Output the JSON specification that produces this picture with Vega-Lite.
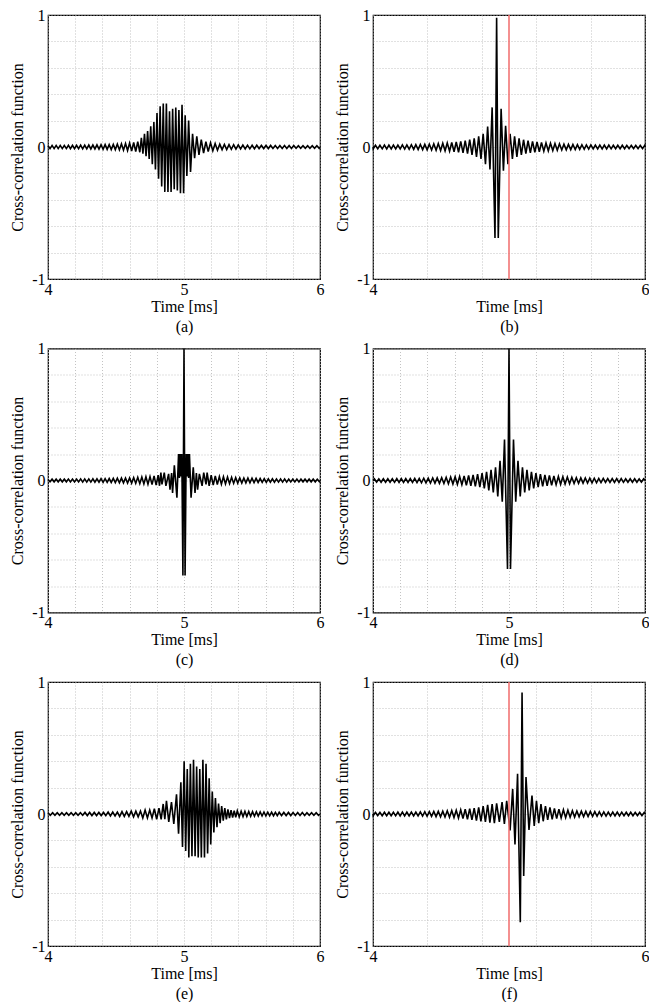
{
"$schema": "https://vega.github.io/schema/vega-lite/v6.json",
"padding": {"left": 9, "top": 6, "right": 2, "bottom": 0},
"background": "white",
"bounds": "flush",
"columns": 2,
"spacing": {"row": 69.5, "column": 53},
"config": {
  "font": "Liberation Serif",
  "view": {"stroke": "black", "strokeWidth": 1.2}
},
"datasets": {
"mark": [{"p": "b", "t": 5}, {"p": "f", "t": 5}],
"sig": [
{"p":"a","t":4.000,"v":0.010},{"p":"a","t":4.015,"v":-0.012},{"p":"a","t":4.030,"v":0.012},{"p":"a","t":4.045,"v":-0.012},{"p":"a","t":4.060,"v":0.012},{"p":"a","t":4.075,"v":-0.012},{"p":"a","t":4.090,"v":0.012},{"p":"a","t":4.105,"v":-0.012},{"p":"a","t":4.120,"v":0.012},{"p":"a","t":4.135,"v":-0.012},{"p":"a","t":4.150,"v":0.013},{"p":"a","t":4.165,"v":-0.013},{"p":"a","t":4.180,"v":0.013},{"p":"a","t":4.195,"v":-0.013},{"p":"a","t":4.210,"v":0.013},{"p":"a","t":4.225,"v":-0.013},{"p":"a","t":4.240,"v":0.014},{"p":"a","t":4.255,"v":-0.014},{"p":"a","t":4.270,"v":0.014},{"p":"a","t":4.285,"v":-0.014},{"p":"a","t":4.300,"v":0.015},{"p":"a","t":4.315,"v":-0.015},{"p":"a","t":4.330,"v":0.015},{"p":"a","t":4.345,"v":-0.015},{"p":"a","t":4.360,"v":0.016},{"p":"a","t":4.375,"v":-0.016},{"p":"a","t":4.390,"v":0.017},{"p":"a","t":4.405,"v":-0.017},{"p":"a","t":4.420,"v":0.018},{"p":"a","t":4.435,"v":-0.018},{"p":"a","t":4.450,"v":0.019},{"p":"a","t":4.465,"v":-0.019},{"p":"a","t":4.480,"v":0.020},{"p":"a","t":4.495,"v":-0.020},{"p":"a","t":4.510,"v":0.022},{"p":"a","t":4.525,"v":-0.022},{"p":"a","t":4.540,"v":0.024},{"p":"a","t":4.555,"v":-0.024},{"p":"a","t":4.570,"v":0.026},{"p":"a","t":4.585,"v":-0.027},{"p":"a","t":4.600,"v":0.030},{"p":"a","t":4.615,"v":-0.030},{"p":"a","t":4.630,"v":0.034},{"p":"a","t":4.645,"v":-0.034},{"p":"a","t":4.660,"v":0.040},{"p":"a","t":4.675,"v":-0.040},
{"p":"a","t":4.6865,"v":0.07},{"p":"a","t":4.698,"v":-0.05},{"p":"a","t":4.7095,"v":0.10},{"p":"a","t":4.721,"v":-0.07},{"p":"a","t":4.7325,"v":0.12},{"p":"a","t":4.744,"v":-0.09},{"p":"a","t":4.7555,"v":0.156},{"p":"a","t":4.767,"v":-0.13},{"p":"a","t":4.7785,"v":0.19},{"p":"a","t":4.790,"v":-0.17},{"p":"a","t":4.8015,"v":0.257},{"p":"a","t":4.813,"v":-0.24},{"p":"a","t":4.8245,"v":0.308},{"p":"a","t":4.836,"v":-0.30},{"p":"a","t":4.8475,"v":0.33},{"p":"a","t":4.859,"v":-0.34},{"p":"a","t":4.8705,"v":0.33},{"p":"a","t":4.882,"v":-0.34},{"p":"a","t":4.8935,"v":0.27},{"p":"a","t":4.905,"v":-0.34},{"p":"a","t":4.9165,"v":0.29},{"p":"a","t":4.928,"v":-0.32},{"p":"a","t":4.9395,"v":0.30},{"p":"a","t":4.951,"v":-0.33},{"p":"a","t":4.9625,"v":0.28},{"p":"a","t":4.974,"v":-0.35},{"p":"a","t":4.9855,"v":0.32},{"p":"a","t":4.997,"v":-0.35},{"p":"a","t":5.0085,"v":0.24},{"p":"a","t":5.021,"v":-0.22},{"p":"a","t":5.034,"v":0.20},{"p":"a","t":5.048,"v":-0.19},{"p":"a","t":5.063,"v":0.10},{"p":"a","t":5.078,"v":-0.085},{"p":"a","t":5.094,"v":0.08},{"p":"a","t":5.110,"v":-0.06},{"p":"a","t":5.127,"v":0.055},{"p":"a","t":5.144,"v":-0.047},{"p":"a","t":5.161,"v":0.04},{"p":"a","t":5.178,"v":-0.035},{"p":"a","t":5.195,"v":0.032},
{"p":"a","t":5.212,"v":-0.028},{"p":"a","t":5.229,"v":0.026},{"p":"a","t":5.246,"v":-0.024},{"p":"a","t":5.263,"v":0.022},{"p":"a","t":5.280,"v":-0.020},{"p":"a","t":5.297,"v":0.020},{"p":"a","t":5.314,"v":-0.019},{"p":"a","t":5.331,"v":0.018},{"p":"a","t":5.348,"v":-0.017},{"p":"a","t":5.365,"v":0.017},{"p":"a","t":5.382,"v":-0.016},{"p":"a","t":5.399,"v":0.016},{"p":"a","t":5.416,"v":-0.015},{"p":"a","t":5.433,"v":0.015},{"p":"a","t":5.450,"v":-0.014},{"p":"a","t":5.467,"v":0.014},{"p":"a","t":5.484,"v":-0.014},{"p":"a","t":5.501,"v":0.013},{"p":"a","t":5.518,"v":-0.013},{"p":"a","t":5.535,"v":0.013},{"p":"a","t":5.552,"v":-0.012},{"p":"a","t":5.569,"v":0.012},{"p":"a","t":5.586,"v":-0.012},{"p":"a","t":5.603,"v":0.012},{"p":"a","t":5.620,"v":-0.012},{"p":"a","t":5.637,"v":0.012},{"p":"a","t":5.654,"v":-0.011},{"p":"a","t":5.671,"v":0.011},{"p":"a","t":5.688,"v":-0.011},{"p":"a","t":5.705,"v":0.011},{"p":"a","t":5.722,"v":-0.011},{"p":"a","t":5.739,"v":0.011},{"p":"a","t":5.756,"v":-0.011},{"p":"a","t":5.773,"v":0.011},{"p":"a","t":5.790,"v":-0.011},{"p":"a","t":5.807,"v":0.011},{"p":"a","t":5.824,"v":-0.010},{"p":"a","t":5.841,"v":0.010},{"p":"a","t":5.858,"v":-0.010},{"p":"a","t":5.875,"v":0.010},{"p":"a","t":5.892,"v":-0.010},{"p":"a","t":5.909,"v":0.010},{"p":"a","t":5.926,"v":-0.010},{"p":"a","t":5.943,"v":0.010},{"p":"a","t":5.960,"v":-0.010},{"p":"a","t":5.977,"v":0.010},{"p":"a","t":5.994,"v":-0.010},{"p":"a","t":6.000,"v":0},

{"p":"b","t":4.000,"v":0},{"p":"b","t":4.002,"v":-0.013},{"p":"b","t":4.018,"v":0.013},{"p":"b","t":4.035,"v":-0.013},{"p":"b","t":4.051,"v":0.013},{"p":"b","t":4.068,"v":-0.014},{"p":"b","t":4.084,"v":0.014},{"p":"b","t":4.101,"v":-0.014},{"p":"b","t":4.117,"v":0.014},{"p":"b","t":4.134,"v":-0.014},{"p":"b","t":4.150,"v":0.015},{"p":"b","t":4.167,"v":-0.015},{"p":"b","t":4.183,"v":0.015},{"p":"b","t":4.200,"v":-0.015},{"p":"b","t":4.216,"v":0.016},{"p":"b","t":4.233,"v":-0.016},{"p":"b","t":4.249,"v":0.016},{"p":"b","t":4.266,"v":-0.017},{"p":"b","t":4.282,"v":0.017},{"p":"b","t":4.299,"v":-0.018},{"p":"b","t":4.315,"v":0.018},{"p":"b","t":4.332,"v":-0.019},{"p":"b","t":4.348,"v":0.019},{"p":"b","t":4.365,"v":-0.020},{"p":"b","t":4.381,"v":0.020},{"p":"b","t":4.398,"v":-0.021},{"p":"b","t":4.414,"v":0.022},{"p":"b","t":4.431,"v":-0.023},{"p":"b","t":4.447,"v":0.024},{"p":"b","t":4.464,"v":-0.025},{"p":"b","t":4.480,"v":0.026},{"p":"b","t":4.497,"v":-0.027},{"p":"b","t":4.513,"v":0.028},{"p":"b","t":4.530,"v":-0.029},{"p":"b","t":4.546,"v":0.030},{"p":"b","t":4.563,"v":-0.032},{"p":"b","t":4.579,"v":0.034},{"p":"b","t":4.596,"v":-0.036},{"p":"b","t":4.612,"v":0.038},{"p":"b","t":4.629,"v":-0.040},{"p":"b","t":4.645,"v":0.042},{"p":"b","t":4.662,"v":-0.045},{"p":"b","t":4.678,"v":0.048},{"p":"b","t":4.695,"v":-0.050},{"p":"b","t":4.711,"v":0.055},{"p":"b","t":4.728,"v":-0.060},{"p":"b","t":4.744,"v":0.065},{"p":"b","t":4.761,"v":-0.075},{"p":"b","t":4.777,"v":0.080},{"p":"b","t":4.794,"v":-0.090},{"p":"b","t":4.810,"v":0.10},{"p":"b","t":4.827,"v":-0.13},{"p":"b","t":4.843,"v":0.155},{"p":"b","t":4.860,"v":-0.17},{"p":"b","t":4.876,"v":0.30},{"p":"b","t":4.897,"v":-0.69},{"p":"b","t":4.909,"v":0.98},{"p":"b","t":4.921,"v":-0.69},{"p":"b","t":4.942,"v":0.29},{"p":"b","t":4.959,"v":-0.18},{"p":"b","t":4.975,"v":0.16},{"p":"b","t":4.992,"v":-0.13},{"p":"b","t":5.008,"v":0.10},{"p":"b","t":5.025,"v":-0.09},{"p":"b","t":5.041,"v":0.08},{"p":"b","t":5.058,"v":-0.075},{"p":"b","t":5.074,"v":0.065},{"p":"b","t":5.091,"v":-0.060},{"p":"b","t":5.107,"v":0.055},{"p":"b","t":5.124,"v":-0.050},{"p":"b","t":5.140,"v":0.048},{"p":"b","t":5.157,"v":-0.045},{"p":"b","t":5.173,"v":0.042},{"p":"b","t":5.190,"v":-0.040},{"p":"b","t":5.206,"v":0.038},{"p":"b","t":5.223,"v":-0.036},{"p":"b","t":5.239,"v":0.034},{"p":"b","t":5.256,"v":-0.032},{"p":"b","t":5.272,"v":0.030},{"p":"b","t":5.289,"v":-0.029},{"p":"b","t":5.305,"v":0.028},{"p":"b","t":5.322,"v":-0.027},{"p":"b","t":5.338,"v":0.026},{"p":"b","t":5.355,"v":-0.025},{"p":"b","t":5.371,"v":0.024},{"p":"b","t":5.388,"v":-0.023},{"p":"b","t":5.404,"v":0.022},{"p":"b","t":5.421,"v":-0.021},{"p":"b","t":5.437,"v":0.020},{"p":"b","t":5.454,"v":-0.020},{"p":"b","t":5.470,"v":0.019},{"p":"b","t":5.487,"v":-0.019},{"p":"b","t":5.503,"v":0.018},{"p":"b","t":5.520,"v":-0.018},{"p":"b","t":5.536,"v":0.017},{"p":"b","t":5.553,"v":-0.017},{"p":"b","t":5.569,"v":0.016},{"p":"b","t":5.586,"v":-0.016},{"p":"b","t":5.602,"v":0.016},{"p":"b","t":5.619,"v":-0.015},{"p":"b","t":5.635,"v":0.015},{"p":"b","t":5.652,"v":-0.015},{"p":"b","t":5.668,"v":0.015},{"p":"b","t":5.685,"v":-0.014},{"p":"b","t":5.701,"v":0.014},{"p":"b","t":5.718,"v":-0.014},{"p":"b","t":5.734,"v":0.014},{"p":"b","t":5.751,"v":-0.014},{"p":"b","t":5.767,"v":0.013},{"p":"b","t":5.784,"v":-0.013},{"p":"b","t":5.800,"v":0.013},{"p":"b","t":5.817,"v":-0.013},{"p":"b","t":5.833,"v":0.013},{"p":"b","t":5.850,"v":-0.013},{"p":"b","t":5.866,"v":0.012},{"p":"b","t":5.883,"v":-0.012},{"p":"b","t":5.899,"v":0.012},{"p":"b","t":5.916,"v":-0.012},{"p":"b","t":5.932,"v":0.012},{"p":"b","t":5.949,"v":-0.012},{"p":"b","t":5.965,"v":0.012},{"p":"b","t":5.982,"v":-0.012},{"p":"b","t":5.998,"v":0.012},{"p":"b","t":6.000,"v":0},

{"p":"c","t":4.000,"v":0.008},{"p":"c","t":4.015,"v":-0.010},{"p":"c","t":4.030,"v":0.010},{"p":"c","t":4.045,"v":-0.010},{"p":"c","t":4.060,"v":0.010},{"p":"c","t":4.075,"v":-0.010},{"p":"c","t":4.090,"v":0.010},{"p":"c","t":4.105,"v":-0.010},{"p":"c","t":4.120,"v":0.010},{"p":"c","t":4.135,"v":-0.010},{"p":"c","t":4.150,"v":0.011},{"p":"c","t":4.165,"v":-0.011},{"p":"c","t":4.180,"v":0.011},{"p":"c","t":4.195,"v":-0.011},{"p":"c","t":4.210,"v":0.011},{"p":"c","t":4.225,"v":-0.011},{"p":"c","t":4.240,"v":0.012},{"p":"c","t":4.255,"v":-0.012},{"p":"c","t":4.270,"v":0.012},{"p":"c","t":4.285,"v":-0.012},{"p":"c","t":4.300,"v":0.012},{"p":"c","t":4.315,"v":-0.012},{"p":"c","t":4.330,"v":0.013},{"p":"c","t":4.345,"v":-0.013},{"p":"c","t":4.360,"v":0.013},{"p":"c","t":4.375,"v":-0.013},{"p":"c","t":4.390,"v":0.014},{"p":"c","t":4.405,"v":-0.014},{"p":"c","t":4.420,"v":0.014},{"p":"c","t":4.435,"v":-0.014},{"p":"c","t":4.450,"v":0.015},{"p":"c","t":4.465,"v":-0.015},{"p":"c","t":4.480,"v":0.016},{"p":"c","t":4.495,"v":-0.016},{"p":"c","t":4.510,"v":0.017},{"p":"c","t":4.525,"v":-0.017},{"p":"c","t":4.540,"v":0.018},{"p":"c","t":4.555,"v":-0.018},{"p":"c","t":4.570,"v":0.019},{"p":"c","t":4.585,"v":-0.019},{"p":"c","t":4.600,"v":0.020},{"p":"c","t":4.615,"v":-0.020},{"p":"c","t":4.630,"v":0.022},{"p":"c","t":4.645,"v":-0.022},{"p":"c","t":4.660,"v":0.024},{"p":"c","t":4.675,"v":-0.024},{"p":"c","t":4.690,"v":0.026},{"p":"c","t":4.705,"v":-0.026},{"p":"c","t":4.720,"v":0.028},{"p":"c","t":4.735,"v":-0.028},{"p":"c","t":4.750,"v":0.030},{"p":"c","t":4.765,"v":-0.030},{"p":"c","t":4.780,"v":0.035},{"p":"c","t":4.795,"v":-0.035},{"p":"c","t":4.810,"v":0.040},{"p":"c","t":4.820,"v":-0.040},
{"p":"c","t":4.830,"v":0.06},{"p":"c","t":4.838,"v":-0.03},{"p":"c","t":4.855,"v":0.06},{"p":"c","t":4.867,"v":-0.04},{"p":"c","t":4.887,"v":0.05},{"p":"c","t":4.897,"v":-0.07},{"p":"c","t":4.909,"v":0.057},{"p":"c","t":4.916,"v":-0.094},{"p":"c","t":4.929,"v":0.115},{"p":"c","t":4.948,"v":-0.13},{"p":"c","t":4.960,"v":0.20},{"p":"c","t":4.966,"v":0.02},{"p":"c","t":4.972,"v":0.20},{"p":"c","t":4.978,"v":0.03},{"p":"c","t":4.984,"v":0.20},{"p":"c","t":4.992,"v":-0.72},{"p":"c","t":5.000,"v":1.0},{"p":"c","t":5.008,"v":-0.72},{"p":"c","t":5.016,"v":0.20},{"p":"c","t":5.022,"v":0.03},{"p":"c","t":5.028,"v":0.20},{"p":"c","t":5.034,"v":0.02},{"p":"c","t":5.040,"v":0.20},{"p":"c","t":5.052,"v":-0.13},{"p":"c","t":5.068,"v":0.10},{"p":"c","t":5.081,"v":-0.094},{"p":"c","t":5.091,"v":0.057},{"p":"c","t":5.100,"v":-0.07},{"p":"c","t":5.113,"v":0.05},{"p":"c","t":5.133,"v":-0.04},{"p":"c","t":5.145,"v":0.06},{"p":"c","t":5.162,"v":-0.03},{"p":"c","t":5.170,"v":0.06},
{"p":"c","t":5.185,"v":-0.040},{"p":"c","t":5.200,"v":0.040},{"p":"c","t":5.215,"v":-0.035},{"p":"c","t":5.230,"v":0.035},{"p":"c","t":5.245,"v":-0.030},{"p":"c","t":5.260,"v":0.030},{"p":"c","t":5.275,"v":-0.028},{"p":"c","t":5.290,"v":0.028},{"p":"c","t":5.305,"v":-0.026},{"p":"c","t":5.320,"v":0.026},{"p":"c","t":5.335,"v":-0.024},{"p":"c","t":5.350,"v":0.024},{"p":"c","t":5.365,"v":-0.022},{"p":"c","t":5.380,"v":0.022},{"p":"c","t":5.395,"v":-0.020},{"p":"c","t":5.410,"v":0.020},{"p":"c","t":5.425,"v":-0.019},{"p":"c","t":5.440,"v":0.019},{"p":"c","t":5.455,"v":-0.018},{"p":"c","t":5.470,"v":0.018},{"p":"c","t":5.485,"v":-0.017},{"p":"c","t":5.500,"v":0.017},{"p":"c","t":5.515,"v":-0.016},{"p":"c","t":5.530,"v":0.016},{"p":"c","t":5.545,"v":-0.015},{"p":"c","t":5.560,"v":0.015},{"p":"c","t":5.575,"v":-0.014},{"p":"c","t":5.590,"v":0.014},{"p":"c","t":5.605,"v":-0.014},{"p":"c","t":5.620,"v":0.013},{"p":"c","t":5.635,"v":-0.013},{"p":"c","t":5.650,"v":0.013},{"p":"c","t":5.665,"v":-0.013},{"p":"c","t":5.680,"v":0.012},{"p":"c","t":5.695,"v":-0.012},{"p":"c","t":5.710,"v":0.012},{"p":"c","t":5.725,"v":-0.012},{"p":"c","t":5.740,"v":0.012},{"p":"c","t":5.755,"v":-0.012},{"p":"c","t":5.770,"v":0.011},{"p":"c","t":5.785,"v":-0.011},{"p":"c","t":5.800,"v":0.011},{"p":"c","t":5.815,"v":-0.011},{"p":"c","t":5.830,"v":0.011},{"p":"c","t":5.845,"v":-0.011},{"p":"c","t":5.860,"v":0.010},{"p":"c","t":5.875,"v":-0.010},{"p":"c","t":5.890,"v":0.010},{"p":"c","t":5.905,"v":-0.010},{"p":"c","t":5.920,"v":0.010},{"p":"c","t":5.935,"v":-0.010},{"p":"c","t":5.950,"v":0.010},{"p":"c","t":5.965,"v":-0.010},{"p":"c","t":5.980,"v":0.010},{"p":"c","t":5.995,"v":-0.008},{"p":"c","t":6.000,"v":0},

{"p":"d","t":4.000,"v":0},{"p":"d","t":4.010,"v":0.012},{"p":"d","t":4.0265,"v":-0.012},{"p":"d","t":4.043,"v":0.012},{"p":"d","t":4.0595,"v":-0.013},{"p":"d","t":4.076,"v":0.013},{"p":"d","t":4.0925,"v":-0.013},{"p":"d","t":4.109,"v":0.013},{"p":"d","t":4.1255,"v":-0.013},{"p":"d","t":4.142,"v":0.013},{"p":"d","t":4.1585,"v":-0.014},{"p":"d","t":4.175,"v":0.014},{"p":"d","t":4.1915,"v":-0.014},{"p":"d","t":4.208,"v":0.014},{"p":"d","t":4.2245,"v":-0.014},{"p":"d","t":4.241,"v":0.015},{"p":"d","t":4.2575,"v":-0.015},{"p":"d","t":4.274,"v":0.015},{"p":"d","t":4.2905,"v":-0.015},{"p":"d","t":4.307,"v":0.016},{"p":"d","t":4.3235,"v":-0.016},{"p":"d","t":4.340,"v":0.016},{"p":"d","t":4.3565,"v":-0.017},{"p":"d","t":4.373,"v":0.017},{"p":"d","t":4.3895,"v":-0.018},{"p":"d","t":4.406,"v":0.018},{"p":"d","t":4.4225,"v":-0.019},{"p":"d","t":4.439,"v":0.019},{"p":"d","t":4.4555,"v":-0.020},{"p":"d","t":4.472,"v":0.020},{"p":"d","t":4.4885,"v":-0.021},{"p":"d","t":4.505,"v":0.022},{"p":"d","t":4.5215,"v":-0.023},{"p":"d","t":4.538,"v":0.024},{"p":"d","t":4.5545,"v":-0.025},{"p":"d","t":4.571,"v":0.026},{"p":"d","t":4.5875,"v":-0.027},{"p":"d","t":4.604,"v":0.028},{"p":"d","t":4.6205,"v":-0.029},{"p":"d","t":4.637,"v":0.030},{"p":"d","t":4.6535,"v":-0.032},{"p":"d","t":4.670,"v":0.034},{"p":"d","t":4.6865,"v":-0.036},{"p":"d","t":4.703,"v":0.038},{"p":"d","t":4.7195,"v":-0.040},{"p":"d","t":4.736,"v":0.042},{"p":"d","t":4.7525,"v":-0.045},{"p":"d","t":4.769,"v":0.048},{"p":"d","t":4.7855,"v":-0.050},{"p":"d","t":4.802,"v":0.055},{"p":"d","t":4.8185,"v":-0.060},{"p":"d","t":4.835,"v":0.065},{"p":"d","t":4.8515,"v":-0.075},{"p":"d","t":4.868,"v":0.080},{"p":"d","t":4.8845,"v":-0.090},{"p":"d","t":4.901,"v":0.10},{"p":"d","t":4.9175,"v":-0.12},{"p":"d","t":4.934,"v":0.15},{"p":"d","t":4.9505,"v":-0.16},{"p":"d","t":4.967,"v":0.31},{"p":"d","t":4.989,"v":-0.67},{"p":"d","t":5.000,"v":1.0},{"p":"d","t":5.011,"v":-0.67},{"p":"d","t":5.033,"v":0.31},{"p":"d","t":5.0495,"v":-0.16},{"p":"d","t":5.066,"v":0.15},{"p":"d","t":5.0825,"v":-0.12},{"p":"d","t":5.099,"v":0.10},{"p":"d","t":5.1155,"v":-0.090},{"p":"d","t":5.132,"v":0.080},{"p":"d","t":5.1485,"v":-0.075},{"p":"d","t":5.165,"v":0.065},{"p":"d","t":5.1815,"v":-0.060},{"p":"d","t":5.198,"v":0.055},{"p":"d","t":5.2145,"v":-0.050},{"p":"d","t":5.231,"v":0.048},{"p":"d","t":5.2475,"v":-0.045},{"p":"d","t":5.264,"v":0.042},{"p":"d","t":5.2805,"v":-0.040},{"p":"d","t":5.297,"v":0.038},{"p":"d","t":5.3135,"v":-0.036},{"p":"d","t":5.330,"v":0.034},{"p":"d","t":5.3465,"v":-0.032},{"p":"d","t":5.363,"v":0.030},{"p":"d","t":5.3795,"v":-0.029},{"p":"d","t":5.396,"v":0.028},{"p":"d","t":5.4125,"v":-0.027},{"p":"d","t":5.429,"v":0.026},{"p":"d","t":5.4455,"v":-0.025},{"p":"d","t":5.462,"v":0.024},{"p":"d","t":5.4785,"v":-0.023},{"p":"d","t":5.495,"v":0.022},{"p":"d","t":5.5115,"v":-0.021},{"p":"d","t":5.528,"v":0.020},{"p":"d","t":5.5445,"v":-0.020},{"p":"d","t":5.561,"v":0.019},{"p":"d","t":5.5775,"v":-0.019},{"p":"d","t":5.594,"v":0.018},{"p":"d","t":5.6105,"v":-0.018},{"p":"d","t":5.627,"v":0.017},{"p":"d","t":5.6435,"v":-0.017},{"p":"d","t":5.660,"v":0.016},{"p":"d","t":5.6765,"v":-0.016},{"p":"d","t":5.693,"v":0.016},{"p":"d","t":5.7095,"v":-0.015},{"p":"d","t":5.726,"v":0.015},{"p":"d","t":5.7425,"v":-0.015},{"p":"d","t":5.759,"v":0.015},{"p":"d","t":5.7755,"v":-0.014},{"p":"d","t":5.792,"v":0.014},{"p":"d","t":5.8085,"v":-0.014},{"p":"d","t":5.825,"v":0.014},{"p":"d","t":5.8415,"v":-0.014},{"p":"d","t":5.858,"v":0.013},{"p":"d","t":5.8745,"v":-0.013},{"p":"d","t":5.891,"v":0.013},{"p":"d","t":5.9075,"v":-0.013},{"p":"d","t":5.924,"v":0.013},{"p":"d","t":5.9405,"v":-0.013},{"p":"d","t":5.957,"v":0.012},{"p":"d","t":5.9735,"v":-0.012},{"p":"d","t":5.990,"v":0.012},{"p":"d","t":6.000,"v":0},

{"p":"e","t":4.000,"v":0.010},{"p":"e","t":4.017,"v":-0.010},{"p":"e","t":4.034,"v":0.010},{"p":"e","t":4.051,"v":-0.010},{"p":"e","t":4.068,"v":0.010},{"p":"e","t":4.085,"v":-0.010},{"p":"e","t":4.102,"v":0.010},{"p":"e","t":4.119,"v":-0.010},{"p":"e","t":4.136,"v":0.010},{"p":"e","t":4.153,"v":-0.010},{"p":"e","t":4.170,"v":0.010},{"p":"e","t":4.187,"v":-0.010},{"p":"e","t":4.204,"v":0.010},{"p":"e","t":4.221,"v":-0.010},{"p":"e","t":4.238,"v":0.010},{"p":"e","t":4.255,"v":-0.010},{"p":"e","t":4.272,"v":0.012},{"p":"e","t":4.289,"v":-0.012},{"p":"e","t":4.306,"v":0.012},{"p":"e","t":4.323,"v":-0.012},{"p":"e","t":4.340,"v":0.012},{"p":"e","t":4.357,"v":-0.012},{"p":"e","t":4.374,"v":0.012},{"p":"e","t":4.391,"v":-0.012},{"p":"e","t":4.408,"v":0.012},{"p":"e","t":4.425,"v":-0.012},{"p":"e","t":4.442,"v":0.015},{"p":"e","t":4.459,"v":-0.015},{"p":"e","t":4.476,"v":0.015},{"p":"e","t":4.493,"v":-0.015},{"p":"e","t":4.510,"v":0.015},{"p":"e","t":4.527,"v":-0.018},{"p":"e","t":4.544,"v":0.018},{"p":"e","t":4.561,"v":-0.018},{"p":"e","t":4.578,"v":0.018},{"p":"e","t":4.595,"v":-0.018},{"p":"e","t":4.612,"v":0.022},{"p":"e","t":4.629,"v":-0.022},{"p":"e","t":4.646,"v":0.022},{"p":"e","t":4.663,"v":-0.022},{"p":"e","t":4.680,"v":0.022},{"p":"e","t":4.697,"v":-0.030},{"p":"e","t":4.714,"v":0.030},{"p":"e","t":4.731,"v":-0.030},{"p":"e","t":4.748,"v":0.030},{"p":"e","t":4.765,"v":-0.030},{"p":"e","t":4.782,"v":0.040},{"p":"e","t":4.799,"v":-0.040},{"p":"e","t":4.816,"v":0.045},
{"p":"e","t":4.832,"v":-0.04},{"p":"e","t":4.847,"v":0.076},{"p":"e","t":4.859,"v":-0.04},{"p":"e","t":4.871,"v":0.10},{"p":"e","t":4.888,"v":-0.06},{"p":"e","t":4.908,"v":0.09},{"p":"e","t":4.925,"v":-0.076},{"p":"e","t":4.945,"v":0.15},{"p":"e","t":4.960,"v":-0.15},{"p":"e","t":4.977,"v":0.24},{"p":"e","t":4.989,"v":-0.25},{"p":"e","t":5.001,"v":0.40},{"p":"e","t":5.0125,"v":-0.28},{"p":"e","t":5.024,"v":0.34},{"p":"e","t":5.0355,"v":-0.33},{"p":"e","t":5.047,"v":0.38},{"p":"e","t":5.0585,"v":-0.32},{"p":"e","t":5.070,"v":0.41},{"p":"e","t":5.0815,"v":-0.32},{"p":"e","t":5.093,"v":0.36},{"p":"e","t":5.1045,"v":-0.33},{"p":"e","t":5.116,"v":0.34},{"p":"e","t":5.1275,"v":-0.33},{"p":"e","t":5.139,"v":0.41},{"p":"e","t":5.1505,"v":-0.33},{"p":"e","t":5.162,"v":0.38},{"p":"e","t":5.1735,"v":-0.30},{"p":"e","t":5.185,"v":0.27},{"p":"e","t":5.1965,"v":-0.23},{"p":"e","t":5.208,"v":0.17},{"p":"e","t":5.2195,"v":-0.14},{"p":"e","t":5.231,"v":0.12},{"p":"e","t":5.2425,"v":-0.10},{"p":"e","t":5.254,"v":0.08},{"p":"e","t":5.2655,"v":-0.07},{"p":"e","t":5.277,"v":0.06},{"p":"e","t":5.2885,"v":-0.05},{"p":"e","t":5.300,"v":0.045},{"p":"e","t":5.3115,"v":-0.04},{"p":"e","t":5.323,"v":0.035},{"p":"e","t":5.3345,"v":-0.032},{"p":"e","t":5.346,"v":0.030},{"p":"e","t":5.3575,"v":-0.028},{"p":"e","t":5.369,"v":0.026},{"p":"e","t":5.3805,"v":-0.025},{"p":"e","t":5.392,"v":0.024},
{"p":"e","t":5.406,"v":-0.022},{"p":"e","t":5.420,"v":0.021},{"p":"e","t":5.434,"v":-0.020},{"p":"e","t":5.448,"v":0.020},{"p":"e","t":5.462,"v":-0.019},{"p":"e","t":5.476,"v":0.019},{"p":"e","t":5.490,"v":-0.018},{"p":"e","t":5.504,"v":0.018},{"p":"e","t":5.518,"v":-0.017},{"p":"e","t":5.532,"v":0.017},{"p":"e","t":5.546,"v":-0.016},{"p":"e","t":5.560,"v":0.016},{"p":"e","t":5.574,"v":-0.015},{"p":"e","t":5.588,"v":0.015},{"p":"e","t":5.602,"v":-0.015},{"p":"e","t":5.616,"v":0.014},{"p":"e","t":5.630,"v":-0.014},{"p":"e","t":5.644,"v":0.014},{"p":"e","t":5.658,"v":-0.013},{"p":"e","t":5.672,"v":0.013},{"p":"e","t":5.686,"v":-0.013},{"p":"e","t":5.700,"v":0.013},{"p":"e","t":5.717,"v":-0.012},{"p":"e","t":5.734,"v":0.012},{"p":"e","t":5.751,"v":-0.012},{"p":"e","t":5.768,"v":0.012},{"p":"e","t":5.785,"v":-0.012},{"p":"e","t":5.802,"v":0.011},{"p":"e","t":5.819,"v":-0.011},{"p":"e","t":5.836,"v":0.011},{"p":"e","t":5.853,"v":-0.011},{"p":"e","t":5.870,"v":0.011},{"p":"e","t":5.887,"v":-0.011},{"p":"e","t":5.904,"v":0.010},{"p":"e","t":5.921,"v":-0.010},{"p":"e","t":5.938,"v":0.010},{"p":"e","t":5.955,"v":-0.010},{"p":"e","t":5.972,"v":0.010},{"p":"e","t":5.989,"v":-0.010},{"p":"e","t":6.000,"v":0},

{"p":"f","t":4.000,"v":0},{"p":"f","t":4.0015,"v":-0.012},{"p":"f","t":4.018,"v":0.012},{"p":"f","t":4.0345,"v":-0.012},{"p":"f","t":4.051,"v":0.012},{"p":"f","t":4.0675,"v":-0.013},{"p":"f","t":4.084,"v":0.013},{"p":"f","t":4.1005,"v":-0.013},{"p":"f","t":4.117,"v":0.013},{"p":"f","t":4.1335,"v":-0.013},{"p":"f","t":4.150,"v":0.013},{"p":"f","t":4.1665,"v":-0.014},{"p":"f","t":4.183,"v":0.014},{"p":"f","t":4.1995,"v":-0.014},{"p":"f","t":4.216,"v":0.014},{"p":"f","t":4.2325,"v":-0.014},{"p":"f","t":4.249,"v":0.014},{"p":"f","t":4.2655,"v":-0.014},{"p":"f","t":4.282,"v":0.014},{"p":"f","t":4.2985,"v":-0.015},{"p":"f","t":4.315,"v":0.015},{"p":"f","t":4.3315,"v":-0.015},{"p":"f","t":4.348,"v":0.016},{"p":"f","t":4.3645,"v":-0.016},{"p":"f","t":4.381,"v":0.017},{"p":"f","t":4.3975,"v":-0.017},{"p":"f","t":4.414,"v":0.018},{"p":"f","t":4.4305,"v":-0.018},{"p":"f","t":4.447,"v":0.019},{"p":"f","t":4.4635,"v":-0.020},{"p":"f","t":4.480,"v":0.020},{"p":"f","t":4.4965,"v":-0.021},{"p":"f","t":4.513,"v":0.022},{"p":"f","t":4.5295,"v":-0.023},{"p":"f","t":4.546,"v":0.024},{"p":"f","t":4.5625,"v":-0.025},{"p":"f","t":4.579,"v":0.026},{"p":"f","t":4.5955,"v":-0.027},{"p":"f","t":4.612,"v":0.028},{"p":"f","t":4.6285,"v":-0.030},{"p":"f","t":4.645,"v":0.032},{"p":"f","t":4.6615,"v":-0.034},{"p":"f","t":4.678,"v":0.036},{"p":"f","t":4.6945,"v":-0.040},{"p":"f","t":4.711,"v":0.040},{"p":"f","t":4.7275,"v":-0.045},{"p":"f","t":4.744,"v":0.045},{"p":"f","t":4.7605,"v":-0.050},{"p":"f","t":4.777,"v":0.050},{"p":"f","t":4.7935,"v":-0.055},{"p":"f","t":4.810,"v":0.060},{"p":"f","t":4.8265,"v":-0.060},{"p":"f","t":4.843,"v":0.070},{"p":"f","t":4.8595,"v":-0.065},{"p":"f","t":4.876,"v":0.075},{"p":"f","t":4.8925,"v":-0.070},
{"p":"f","t":4.909,"v":0.08},{"p":"f","t":4.929,"v":-0.06},{"p":"f","t":4.949,"v":0.09},{"p":"f","t":4.966,"v":-0.075},{"p":"f","t":4.983,"v":0.10},{"p":"f","t":5.008,"v":-0.125},{"p":"f","t":5.027,"v":0.19},{"p":"f","t":5.044,"v":-0.23},{"p":"f","t":5.063,"v":0.305},{"p":"f","t":5.083,"v":-0.82},{"p":"f","t":5.096,"v":0.92},{"p":"f","t":5.108,"v":-0.47},{"p":"f","t":5.125,"v":0.28},{"p":"f","t":5.147,"v":-0.12},{"p":"f","t":5.169,"v":0.14},
{"p":"f","t":5.1855,"v":-0.09},{"p":"f","t":5.202,"v":0.10},{"p":"f","t":5.2185,"v":-0.07},{"p":"f","t":5.235,"v":0.075},{"p":"f","t":5.2515,"v":-0.055},{"p":"f","t":5.268,"v":0.06},{"p":"f","t":5.2845,"v":-0.045},{"p":"f","t":5.301,"v":0.05},{"p":"f","t":5.3175,"v":-0.04},{"p":"f","t":5.334,"v":0.042},{"p":"f","t":5.3505,"v":-0.035},{"p":"f","t":5.367,"v":0.036},{"p":"f","t":5.3835,"v":-0.030},{"p":"f","t":5.400,"v":0.032},{"p":"f","t":5.4165,"v":-0.028},{"p":"f","t":5.433,"v":0.028},{"p":"f","t":5.4495,"v":-0.025},{"p":"f","t":5.466,"v":0.025},{"p":"f","t":5.4825,"v":-0.023},{"p":"f","t":5.499,"v":0.023},{"p":"f","t":5.5155,"v":-0.021},{"p":"f","t":5.532,"v":0.021},{"p":"f","t":5.5485,"v":-0.020},{"p":"f","t":5.565,"v":0.020},{"p":"f","t":5.5815,"v":-0.019},{"p":"f","t":5.598,"v":0.019},{"p":"f","t":5.6145,"v":-0.018},{"p":"f","t":5.631,"v":0.018},{"p":"f","t":5.6475,"v":-0.017},{"p":"f","t":5.664,"v":0.017},{"p":"f","t":5.6805,"v":-0.016},{"p":"f","t":5.697,"v":0.016},{"p":"f","t":5.7135,"v":-0.016},{"p":"f","t":5.730,"v":0.015},{"p":"f","t":5.7465,"v":-0.015},{"p":"f","t":5.763,"v":0.015},{"p":"f","t":5.7795,"v":-0.014},{"p":"f","t":5.796,"v":0.014},{"p":"f","t":5.8125,"v":-0.014},{"p":"f","t":5.829,"v":0.014},{"p":"f","t":5.8455,"v":-0.013},{"p":"f","t":5.862,"v":0.013},{"p":"f","t":5.8785,"v":-0.013},{"p":"f","t":5.895,"v":0.013},{"p":"f","t":5.9115,"v":-0.013},{"p":"f","t":5.928,"v":0.012},{"p":"f","t":5.9445,"v":-0.012},{"p":"f","t":5.961,"v":0.012},{"p":"f","t":5.9775,"v":-0.012},{"p":"f","t":5.994,"v":0.012},{"p":"f","t":6.000,"v":0}
]
},
"concat": [
{"width": 272, "height": 264, "view": {"stroke": "black", "strokeWidth": 1.2}, "layer": [
 {"data": {"name": "sig"}, "transform": [{"filter": "datum.p == 'a'"}], "mark": {"type": "line", "color": "black", "strokeWidth": 1.6},
  "encoding": {
   "x": {"field": "t", "type": "quantitative", "scale": {"domain": [4, 6], "nice": false, "zero": false}, "axis": {"title": ["Time [ms]", "(a)"], "titleFont": "Liberation Serif", "titleFontSize": 16, "titleFontWeight": "normal", "titleColor": "black", "titlePadding": 1, "titleLineHeight": 20, "labelFont": "Liberation Serif", "labelFontSize": 16, "labelColor": "black", "labelPadding": 2, "labelFlush": false, "labelOverlap": false, "domain": false, "ticks": false, "gridColor": "#b4b4b4", "gridDash": [1, 2], "gridWidth": 0.8, "values": [4, 4.2, 4.4, 4.6, 4.8, 5, 5.2, 5.4, 5.6, 5.8, 6], "labelExpr": "datum.value == 4 ? '4' : datum.value == 5 ? '5' : datum.value == 6 ? '6' : ''"}},
   "y": {"field": "v", "type": "quantitative", "scale": {"domain": [-1, 1], "nice": false}, "axis": {"title": "Cross-correlation function", "titleFont": "Liberation Serif", "titleFontSize": 16, "titleFontWeight": "normal", "titleColor": "black", "titlePadding": 6, "labelFont": "Liberation Serif", "labelFontSize": 16, "labelColor": "black", "labelPadding": 3, "labelFlush": false, "labelOverlap": false, "domain": false, "ticks": false, "gridColor": "#b4b4b4", "gridDash": [1, 2], "gridWidth": 0.8, "values": [-1, -0.8, -0.6, -0.4, -0.2, 0, 0.2, 0.4, 0.6, 0.8, 1], "labelExpr": "datum.value == 1 ? '1' : datum.value == 0 ? '0' : datum.value == -1 ? '-1' : ''"}}}}
]},
{"width": 272, "height": 264, "view": {"stroke": "black", "strokeWidth": 1.2}, "layer": [
 {"data": {"name": "sig"}, "transform": [{"filter": "datum.p == 'b'"}], "mark": {"type": "line", "color": "black", "strokeWidth": 1.6},
  "encoding": {
   "x": {"field": "t", "type": "quantitative", "scale": {"domain": [4, 6], "nice": false, "zero": false}, "axis": {"title": ["Time [ms]", "(b)"], "titleFont": "Liberation Serif", "titleFontSize": 16, "titleFontWeight": "normal", "titleColor": "black", "titlePadding": 1, "titleLineHeight": 20, "labelFont": "Liberation Serif", "labelFontSize": 16, "labelColor": "black", "labelPadding": 2, "labelFlush": false, "labelOverlap": false, "domain": false, "ticks": false, "gridColor": "#b4b4b4", "gridDash": [1, 2], "gridWidth": 0.8, "values": [4, 4.2, 4.4, 4.6, 4.8, 5, 5.2, 5.4, 5.6, 5.8, 6], "labelExpr": "datum.value == 4 ? '4' : datum.value == 5 ? '5' : datum.value == 6 ? '6' : ''"}},
   "y": {"field": "v", "type": "quantitative", "scale": {"domain": [-1, 1], "nice": false}, "axis": {"title": "Cross-correlation function", "titleFont": "Liberation Serif", "titleFontSize": 16, "titleFontWeight": "normal", "titleColor": "black", "titlePadding": 6, "labelFont": "Liberation Serif", "labelFontSize": 16, "labelColor": "black", "labelPadding": 3, "labelFlush": false, "labelOverlap": false, "domain": false, "ticks": false, "gridColor": "#b4b4b4", "gridDash": [1, 2], "gridWidth": 0.8, "values": [-1, -0.8, -0.6, -0.4, -0.2, 0, 0.2, 0.4, 0.6, 0.8, 1], "labelExpr": "datum.value == 1 ? '1' : datum.value == 0 ? '0' : datum.value == -1 ? '-1' : ''"}}}},
 {"data": {"name": "mark"}, "transform": [{"filter": "datum.p == 'b'"}], "mark": {"type": "rule", "color": "#f06b6b", "strokeWidth": 1.5}, "encoding": {"x": {"field": "t", "type": "quantitative"}}}
]},
{"width": 272, "height": 264, "view": {"stroke": "black", "strokeWidth": 1.2}, "layer": [
 {"data": {"name": "sig"}, "transform": [{"filter": "datum.p == 'c'"}], "mark": {"type": "line", "color": "black", "strokeWidth": 1.6},
  "encoding": {
   "x": {"field": "t", "type": "quantitative", "scale": {"domain": [4, 6], "nice": false, "zero": false}, "axis": {"title": ["Time [ms]", "(c)"], "titleFont": "Liberation Serif", "titleFontSize": 16, "titleFontWeight": "normal", "titleColor": "black", "titlePadding": 1, "titleLineHeight": 20, "labelFont": "Liberation Serif", "labelFontSize": 16, "labelColor": "black", "labelPadding": 2, "labelFlush": false, "labelOverlap": false, "domain": false, "ticks": false, "gridColor": "#b4b4b4", "gridDash": [1, 2], "gridWidth": 0.8, "values": [4, 4.2, 4.4, 4.6, 4.8, 5, 5.2, 5.4, 5.6, 5.8, 6], "labelExpr": "datum.value == 4 ? '4' : datum.value == 5 ? '5' : datum.value == 6 ? '6' : ''"}},
   "y": {"field": "v", "type": "quantitative", "scale": {"domain": [-1, 1], "nice": false}, "axis": {"title": "Cross-correlation function", "titleFont": "Liberation Serif", "titleFontSize": 16, "titleFontWeight": "normal", "titleColor": "black", "titlePadding": 6, "labelFont": "Liberation Serif", "labelFontSize": 16, "labelColor": "black", "labelPadding": 3, "labelFlush": false, "labelOverlap": false, "domain": false, "ticks": false, "gridColor": "#b4b4b4", "gridDash": [1, 2], "gridWidth": 0.8, "values": [-1, -0.8, -0.6, -0.4, -0.2, 0, 0.2, 0.4, 0.6, 0.8, 1], "labelExpr": "datum.value == 1 ? '1' : datum.value == 0 ? '0' : datum.value == -1 ? '-1' : ''"}}}}
]},
{"width": 272, "height": 264, "view": {"stroke": "black", "strokeWidth": 1.2}, "layer": [
 {"data": {"name": "sig"}, "transform": [{"filter": "datum.p == 'd'"}], "mark": {"type": "line", "color": "black", "strokeWidth": 1.6},
  "encoding": {
   "x": {"field": "t", "type": "quantitative", "scale": {"domain": [4, 6], "nice": false, "zero": false}, "axis": {"title": ["Time [ms]", "(d)"], "titleFont": "Liberation Serif", "titleFontSize": 16, "titleFontWeight": "normal", "titleColor": "black", "titlePadding": 1, "titleLineHeight": 20, "labelFont": "Liberation Serif", "labelFontSize": 16, "labelColor": "black", "labelPadding": 2, "labelFlush": false, "labelOverlap": false, "domain": false, "ticks": false, "gridColor": "#b4b4b4", "gridDash": [1, 2], "gridWidth": 0.8, "values": [4, 4.2, 4.4, 4.6, 4.8, 5, 5.2, 5.4, 5.6, 5.8, 6], "labelExpr": "datum.value == 4 ? '4' : datum.value == 5 ? '5' : datum.value == 6 ? '6' : ''"}},
   "y": {"field": "v", "type": "quantitative", "scale": {"domain": [-1, 1], "nice": false}, "axis": {"title": "Cross-correlation function", "titleFont": "Liberation Serif", "titleFontSize": 16, "titleFontWeight": "normal", "titleColor": "black", "titlePadding": 6, "labelFont": "Liberation Serif", "labelFontSize": 16, "labelColor": "black", "labelPadding": 3, "labelFlush": false, "labelOverlap": false, "domain": false, "ticks": false, "gridColor": "#b4b4b4", "gridDash": [1, 2], "gridWidth": 0.8, "values": [-1, -0.8, -0.6, -0.4, -0.2, 0, 0.2, 0.4, 0.6, 0.8, 1], "labelExpr": "datum.value == 1 ? '1' : datum.value == 0 ? '0' : datum.value == -1 ? '-1' : ''"}}}}
]},
{"width": 272, "height": 264, "view": {"stroke": "black", "strokeWidth": 1.2}, "layer": [
 {"data": {"name": "sig"}, "transform": [{"filter": "datum.p == 'e'"}], "mark": {"type": "line", "color": "black", "strokeWidth": 1.6},
  "encoding": {
   "x": {"field": "t", "type": "quantitative", "scale": {"domain": [4, 6], "nice": false, "zero": false}, "axis": {"title": ["Time [ms]", "(e)"], "titleFont": "Liberation Serif", "titleFontSize": 16, "titleFontWeight": "normal", "titleColor": "black", "titlePadding": 1, "titleLineHeight": 20, "labelFont": "Liberation Serif", "labelFontSize": 16, "labelColor": "black", "labelPadding": 2, "labelFlush": false, "labelOverlap": false, "domain": false, "ticks": false, "gridColor": "#b4b4b4", "gridDash": [1, 2], "gridWidth": 0.8, "values": [4, 4.2, 4.4, 4.6, 4.8, 5, 5.2, 5.4, 5.6, 5.8, 6], "labelExpr": "datum.value == 4 ? '4' : datum.value == 5 ? '5' : datum.value == 6 ? '6' : ''"}},
   "y": {"field": "v", "type": "quantitative", "scale": {"domain": [-1, 1], "nice": false}, "axis": {"title": "Cross-correlation function", "titleFont": "Liberation Serif", "titleFontSize": 16, "titleFontWeight": "normal", "titleColor": "black", "titlePadding": 6, "labelFont": "Liberation Serif", "labelFontSize": 16, "labelColor": "black", "labelPadding": 3, "labelFlush": false, "labelOverlap": false, "domain": false, "ticks": false, "gridColor": "#b4b4b4", "gridDash": [1, 2], "gridWidth": 0.8, "values": [-1, -0.8, -0.6, -0.4, -0.2, 0, 0.2, 0.4, 0.6, 0.8, 1], "labelExpr": "datum.value == 1 ? '1' : datum.value == 0 ? '0' : datum.value == -1 ? '-1' : ''"}}}}
]},
{"width": 272, "height": 264, "view": {"stroke": "black", "strokeWidth": 1.2}, "layer": [
 {"data": {"name": "sig"}, "transform": [{"filter": "datum.p == 'f'"}], "mark": {"type": "line", "color": "black", "strokeWidth": 1.6},
  "encoding": {
   "x": {"field": "t", "type": "quantitative", "scale": {"domain": [4, 6], "nice": false, "zero": false}, "axis": {"title": ["Time [ms]", "(f)"], "titleFont": "Liberation Serif", "titleFontSize": 16, "titleFontWeight": "normal", "titleColor": "black", "titlePadding": 1, "titleLineHeight": 20, "labelFont": "Liberation Serif", "labelFontSize": 16, "labelColor": "black", "labelPadding": 2, "labelFlush": false, "labelOverlap": false, "domain": false, "ticks": false, "gridColor": "#b4b4b4", "gridDash": [1, 2], "gridWidth": 0.8, "values": [4, 4.2, 4.4, 4.6, 4.8, 5, 5.2, 5.4, 5.6, 5.8, 6], "labelExpr": "datum.value == 4 ? '4' : datum.value == 5 ? '5' : datum.value == 6 ? '6' : ''"}},
   "y": {"field": "v", "type": "quantitative", "scale": {"domain": [-1, 1], "nice": false}, "axis": {"title": "Cross-correlation function", "titleFont": "Liberation Serif", "titleFontSize": 16, "titleFontWeight": "normal", "titleColor": "black", "titlePadding": 6, "labelFont": "Liberation Serif", "labelFontSize": 16, "labelColor": "black", "labelPadding": 3, "labelFlush": false, "labelOverlap": false, "domain": false, "ticks": false, "gridColor": "#b4b4b4", "gridDash": [1, 2], "gridWidth": 0.8, "values": [-1, -0.8, -0.6, -0.4, -0.2, 0, 0.2, 0.4, 0.6, 0.8, 1], "labelExpr": "datum.value == 1 ? '1' : datum.value == 0 ? '0' : datum.value == -1 ? '-1' : ''"}}}},
 {"data": {"name": "mark"}, "transform": [{"filter": "datum.p == 'f'"}], "mark": {"type": "rule", "color": "#f06b6b", "strokeWidth": 1.5}, "encoding": {"x": {"field": "t", "type": "quantitative"}}}
]}
]
}
